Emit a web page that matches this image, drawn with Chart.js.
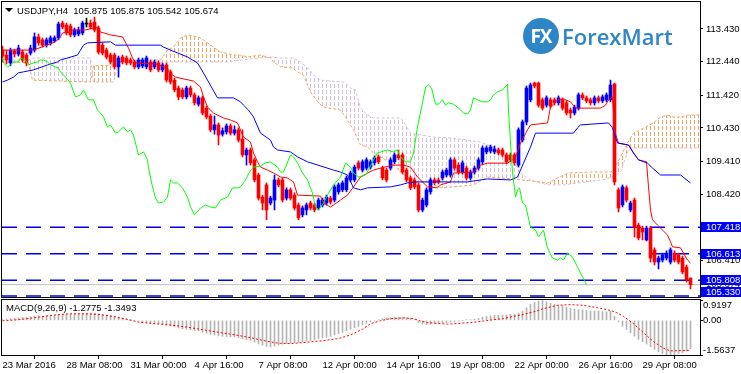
<!DOCTYPE html>
<html>
<head>
<meta charset="utf-8">
<script src="https://cdn.jsdelivr.net/npm/chart.js@4.4.1/dist/chart.umd.min.js"></script>
<style>
  html, body { margin: 0; padding: 0; background: #fff; }
  #wrap { position: relative; width: 741px; height: 374px; overflow: hidden; font-family: "Liberation Sans", Arial, sans-serif; }
  #main { position: absolute; left: 0; top: 0; }
  #macd { position: absolute; left: 0; top: 299px; }
  .txt { position: absolute; font-size: 9.5px; line-height: 11px; color: #000; white-space: nowrap; }
  #tri { position: absolute; left: 5px; top: 8px; width: 0; height: 0; border-left: 4px solid transparent; border-right: 4px solid transparent; border-top: 4px solid #000; }
  #logoCircle { position: absolute; left: 523px; top: 18px; width: 36px; height: 36px; border-radius: 50%; background: #2f86c6; color: #fff; font: bold 19px/36px "Open Sans", sans-serif; text-align: center; letter-spacing: -1px; }
  #logoText { position: absolute; left: 562px; top: 25px; font: 600 22px/22px "Open Sans", sans-serif; color: #2f86c6; }
</style>
</head>
<body>
<div id="wrap">
  <canvas id="main" width="741" height="298"></canvas>
  <canvas id="macd" width="741" height="75"></canvas>
  <div id="tri"></div>
  <div class="txt" style="left:17px;top:5px">USDJPY,H4&nbsp; 105.875 105.875 105.542 105.674</div>
  <div class="txt" style="left:6px;top:302px">MACD(9,26,9) -1.2775 -1.3493</div>
  <div id="logoCircle">FX</div>
  <div id="logoText">ForexMart</div>
</div>
<script>
// ── USDJPY H4 candles (bar 0 = 23 Mar 2016 16:00) ──
const openP = [
  112.79,112.64,112.40,112.76,112.67,112.73,112.64,112.70,112.79,113.19,
  113.10,112.94,113.01,113.07,113.16,113.61,113.55,113.52,113.25,113.28,
  113.31,113.58,113.61,113.64,113.46,112.94,112.79,112.64,112.64,112.28,
  112.58,112.55,112.49,112.43,112.28,112.31,112.28,112.43,112.28,112.40,
  112.19,112.34,112.13,111.88,111.64,111.58,111.37,111.64,111.43,111.15,
  111.34,111.03,110.79,110.37,110.52,110.24,110.31,110.49,110.27,110.37,
  110.09,109.61,109.76,109.46,109.00,108.33,108.70,108.15,108.24,108.85,
  108.85,108.30,108.55,108.39,108.09,107.79,107.94,108.15,108.09,108.00,
  108.09,108.15,108.30,108.24,108.49,108.55,108.55,108.85,108.85,109.37,
  109.15,109.21,109.24,109.37,109.55,109.21,109.15,109.21,109.40,109.61,
  109.61,109.15,108.91,108.85,108.70,107.94,108.09,108.49,108.85,108.85,
  108.91,109.00,109.00,109.46,109.30,109.09,109.21,108.91,109.09,109.21,
  109.40,109.70,109.73,109.70,109.76,109.76,109.61,109.61,109.61,109.30,
  110.06,110.61,111.28,111.79,111.79,111.28,111.12,111.28,111.28,111.19,
  111.28,111.19,110.97,110.88,111.03,111.43,111.34,111.28,111.19,111.34,
  111.25,111.28,111.28,111.76,108.55,108.09,108.61,107.94,108.24,107.48,
  107.39,107.03,107.39,106.73,106.36,106.42,106.48,106.36,106.63,106.57,
  106.48,106.21,105.875
];
const highP = [
  112.91,112.79,112.85,112.82,112.94,112.79,112.70,112.94,113.31,113.28,
  113.16,113.16,113.22,113.22,113.64,113.67,113.61,113.58,113.46,113.49,
  113.67,113.76,113.70,113.79,113.52,113.01,112.85,112.70,112.70,112.61,
  112.64,112.61,112.55,112.49,112.55,112.55,112.61,112.49,112.49,112.46,
  112.40,112.40,112.19,111.94,111.70,111.64,111.70,111.70,111.49,111.40,
  111.40,111.09,110.85,110.79,110.58,110.43,110.55,110.55,110.49,110.43,
  110.37,109.82,109.82,109.52,109.06,108.39,108.76,108.36,109.00,108.91,
  108.91,108.61,108.61,108.46,108.15,108.06,108.15,108.21,108.15,108.30,
  108.30,108.39,108.36,108.70,108.76,108.82,108.97,109.12,109.30,109.43,
  109.46,109.52,109.46,109.58,109.61,109.27,109.21,109.52,109.67,109.76,
  109.67,109.21,108.97,108.91,108.76,108.30,108.61,108.91,108.91,108.91,
  109.15,109.21,109.52,109.52,109.37,109.43,109.27,109.15,109.27,109.52,
  109.88,109.88,109.91,109.88,109.82,109.82,109.67,109.67,109.67,110.43,
  110.67,111.70,111.79,111.82,111.82,111.34,111.40,111.34,111.34,111.40,
  111.34,111.25,111.03,111.12,111.49,111.49,111.40,111.34,111.40,111.40,
  111.43,111.49,111.88,111.79,108.61,108.70,108.67,108.21,108.30,107.54,
  107.45,107.45,107.45,106.79,106.54,106.63,106.70,106.79,106.70,106.63,
  106.54,106.27,105.875
];
const lowP = [
  112.43,112.37,112.31,112.58,112.61,112.43,112.31,112.64,112.73,112.94,
  112.88,112.88,112.94,113.04,113.10,113.43,113.25,113.19,113.19,113.22,
  113.25,113.49,113.43,113.34,112.67,112.64,112.52,112.37,112.22,111.97,
  112.37,112.34,112.34,112.22,112.22,112.25,112.22,112.13,112.22,112.13,
  112.13,111.82,111.76,111.52,111.28,111.31,111.31,111.37,111.12,111.09,
  110.82,110.70,110.31,110.24,109.91,110.18,110.24,110.21,110.21,110.00,
  109.55,109.30,109.30,108.79,108.24,107.94,107.64,108.09,107.94,108.64,
  108.18,108.24,108.24,107.94,107.64,107.73,107.79,107.94,107.88,107.94,
  108.03,108.09,108.12,108.18,108.42,108.49,108.49,108.79,108.79,109.15,
  109.09,109.15,109.18,109.30,109.34,108.85,108.79,109.15,109.34,109.46,
  109.03,108.79,108.55,108.58,107.88,107.88,108.03,108.42,108.70,108.73,
  108.85,108.94,108.94,109.15,109.03,109.03,108.85,108.85,109.03,109.15,
  109.34,109.64,109.67,109.64,109.61,109.55,109.34,109.40,109.30,109.24,
  110.00,110.52,111.22,111.64,111.06,110.97,111.06,111.03,111.12,111.12,
  110.97,110.82,110.73,110.82,110.97,111.28,111.19,111.12,111.12,111.19,
  111.19,111.22,111.22,108.70,107.88,108.03,108.18,107.88,107.12,107.03,
  107.03,107.00,106.36,106.27,106.15,106.36,106.42,106.30,106.36,106.30,
  106.00,105.75,105.542
];
const closeP = [
  112.61,112.49,112.79,112.67,112.85,112.49,112.40,112.85,113.19,113.01,
  112.94,113.10,113.16,113.16,113.58,113.49,113.31,113.25,113.40,113.40,
  113.61,113.58,113.49,113.40,112.73,112.70,112.58,112.43,112.28,112.55,
  112.43,112.40,112.40,112.28,112.49,112.49,112.55,112.19,112.43,112.19,
  112.34,111.88,111.82,111.58,111.37,111.37,111.64,111.43,111.19,111.34,
  110.88,110.76,110.37,110.52,110.21,110.34,110.49,110.27,110.37,110.06,
  109.61,109.76,109.37,108.85,108.30,108.15,107.94,108.30,108.85,108.70,
  108.24,108.55,108.30,108.00,107.70,108.00,108.09,108.00,107.94,108.24,
  108.24,108.33,108.18,108.64,108.70,108.76,108.91,109.06,109.24,109.21,
  109.40,109.46,109.40,109.52,109.40,108.91,108.85,109.46,109.61,109.52,
  109.09,108.85,108.61,108.64,107.94,108.24,108.55,108.85,108.76,108.79,
  109.09,109.15,109.46,109.21,109.09,109.37,108.91,109.09,109.21,109.46,
  109.82,109.82,109.85,109.79,109.67,109.61,109.40,109.46,109.37,110.37,
  110.61,111.64,111.73,111.70,111.12,111.03,111.34,111.09,111.19,111.34,
  111.03,110.88,110.88,111.06,111.43,111.34,111.25,111.19,111.34,111.25,
  111.37,111.43,111.73,108.79,108.00,108.64,108.24,108.15,107.42,107.09,
  107.27,107.39,106.48,106.36,106.48,106.57,106.63,106.73,106.42,106.36,
  106.06,105.82,105.674
];

// ── Ichimoku lines, read as [bar, price] vertices ──
const tenkanPts = [
  [0,112.79],[7.75,112.79],[13.25,113.04],[14.5,113.19],[15,113.31],[17,113.34],[17.5,113.40],[20.75,113.40],
  [23.75,113.49],[24.5,113.34],[27,113.25],[30,113.19],[31.5,112.85],[32.5,112.55],[33.25,112.40],[38.25,112.37],
  [41.25,112.25],[41.5,112.13],[43.25,111.97],[47.75,111.85],[49.5,111.67],[50.25,111.37],[51.25,111.06],[52.75,110.88],
  [53.75,110.82],[55.25,110.73],[57,110.67],[58.75,110.58],[60.25,110.15],[62,110.00],[62.75,109.67],[63.75,109.40],
  [64.5,109.24],[66.25,109.15],[67.75,109.06],[69.5,108.94],[71.25,108.91],[72.75,108.79],[73.75,108.39],[79.5,108.36],
  [80.25,108.15],[82,108.03],[82.75,108.09],[84.5,108.24],[86.25,108.39],[87.75,108.64],[89.5,108.94],[91.25,109.06],
  [92.75,109.15],[94.5,109.21],[97.75,109.30],[100.25,109.30],[102,109.24],[103.75,108.94],[105,108.79],[106.25,108.64],
  [108.75,108.61],[109.5,108.70],[112,108.79],[112.75,109.06],[117.75,109.09],[119.5,109.30],[121.25,109.36],[126.25,109.36],
  [127.5,109.46],[128.25,109.55],[129.5,109.97],[131.25,110.37],[132,110.52],[136.25,110.58],[137,111.06],[138.75,111.28],
  [140.25,111.31],[142,111.22],[143.25,111.03],[149.5,111.03],[150.75,111.12],[151.5,111.28],[152.5,111.37],[153,110.34],
  [154,109.97],[156.5,109.91],[157.75,109.67],[159,109.46],[161,109.40],[161.5,108.64],[162,107.94],[162.5,107.64],
  [163.75,107.48],[165,107.33],[166.25,107.18],[167,106.97],[167.5,106.82],[169.5,106.79],[170.25,106.63],[171.25,106.42],
  [172,106.33]
];
const kijunPts = [
  [0,111.82],[1.25,111.88],[2.75,111.97],[4,112.10],[5.25,112.13],[7.75,112.19],[11.25,112.34],[13.75,112.43],
  [14.5,112.49],[16.25,112.55],[18.75,112.64],[19.5,112.79],[20.25,112.94],[21.25,113.01],[27,113.04],[28.25,112.94],
  [39.5,112.94],[40.25,112.88],[42,112.79],[46.25,112.58],[47.5,112.49],[48.75,112.40],[49.5,112.25],[51.25,111.88],
  [53.75,111.34],[57.75,111.34],[59.5,111.22],[60.25,111.12],[61.5,110.97],[62.75,110.76],[64.5,110.27],[67,110.06],
  [67.75,109.85],[68.75,109.76],[72,109.70],[73.75,109.55],[76.25,109.40],[82.75,109.15],[84.5,109.09],[86.25,109.00],
  [87.75,108.61],[89.5,108.55],[91.25,108.61],[97,108.64],[99.5,108.70],[101.25,108.76],[103.75,108.79],[116.25,108.79],
  [117.75,108.82],[121.25,108.88],[127,108.85],[128.75,108.94],[130.25,109.36],[132,109.85],[133.25,110.27],[142.75,110.27],
  [143.75,110.43],[144.5,110.52],[151.5,110.58],[152.5,110.43],[153.75,109.97],[156.5,109.91],[157.75,109.67],[159,109.46],
  [161.25,109.36],[162.5,109.21],[164.5,109.00],[169.5,109.00],[172,108.76]
];
const spanAPts = [
  [0,112.43],[6.5,112.40],[7.5,111.88],[22,111.82],[22.75,112.31],[27.75,112.34],[29.5,112.43],[37,112.49],
  [39.5,112.49],[41.25,112.79],[42.75,112.88],[44.5,113.16],[46.25,113.25],[47.75,113.22],[49.5,113.16],[51.25,113.01],
  [52.75,112.88],[54.5,112.73],[57.75,112.64],[59.5,112.64],[61.25,112.58],[64.5,112.64],[67,112.55],[67.75,112.43],
  [69.5,112.28],[72.5,112.25],[73.75,112.13],[75.25,112.03],[77,111.52],[78.75,111.22],[80.25,111.06],[84.5,110.97],
  [85.75,110.76],[87.75,110.37],[89.5,109.91],[91.25,109.85],[92.75,109.67],[94.5,109.55],[97.75,109.30],[99.5,109.09],
  [102.75,108.79],[106.25,108.79],[109.5,108.61],[112.75,108.64],[117.75,108.70],[121.25,108.94],[124.5,108.91],[130,108.85],
  [134.5,108.79],[136.25,108.76],[140.25,109.00],[141.5,109.06],[147,109.09],[152,109.09],[152.75,109.15],[154.5,109.55],
  [156.25,109.97],[157.75,110.27],[159.5,110.37],[162.75,110.58],[164.5,110.76],[166.25,110.82],[167.75,110.76],[169.5,110.76],
  [171.25,110.82],[174.5,110.82]
];
const spanBPts = [
  [0,112.49],[6.5,112.49],[7.5,112.55],[22,112.55],[22.75,111.82],[27.75,111.82],[29,112.43],[39.5,112.43],
  [56.25,112.43],[62,112.52],[67,112.58],[69.5,112.55],[72.75,112.55],[74.5,112.43],[76.25,112.25],[77.75,112.03],
  [79.5,111.88],[85.25,111.82],[87,111.64],[88.25,111.58],[89.5,111.03],[91.25,110.82],[92.75,110.73],[99.5,110.73],
  [100.75,110.52],[102,110.27],[107.75,110.15],[112.75,110.12],[117.75,110.03],[119.5,110.00],[124.5,109.76],[128.25,109.30],
  [130,109.00],[132,108.85],[134.5,108.76],[136.25,108.70],[140.25,108.70],[149.5,108.85],[152.75,108.94],[154.5,109.09],
  [156.5,109.76],[157.25,109.82],[174.5,109.82]
];
const chikouPts = [
  [0,112.55],[0.25,112.40],[1.25,112.28],[2,112.34],[2.75,112.43],[4,112.43],[4.5,112.55],[5.75,112.49],
  [6.5,112.34],[7.75,112.40],[8.75,112.43],[9.5,112.49],[10.25,112.49],[11.25,112.43],[12,112.34],[13.25,112.28],
  [14,112.25],[14.5,112.13],[15.75,111.97],[17,111.79],[17.75,111.52],[18.25,111.37],[19.5,111.43],[20.25,111.58],
  [21.5,111.28],[22.75,111.28],[23.75,110.97],[24.5,110.88],[25.25,110.76],[26.25,110.46],[27,110.52],[28.25,110.27],
  [29,110.31],[30.25,110.46],[31.25,110.31],[32,110.37],[32.75,110.21],[33.25,109.97],[34,109.61],[35.25,109.70],
  [36.25,109.46],[36.5,109.21],[37.5,108.64],[38.25,108.30],[39,108.15],[40.25,108.18],[41.25,108.33],[42,108.85],
  [42.75,108.76],[43.75,108.76],[45,108.61],[46.25,108.33],[47,108.03],[48,107.79],[49.5,108.00],[50.75,108.09],
  [52,108.03],[53.25,108.00],[54.5,108.24],[56.25,108.33],[57.5,108.61],[58.75,108.61],[59.5,108.64],[60.75,108.85],
  [61.75,109.09],[62.75,109.24],[64.5,109.27],[65.75,109.37],[67,109.40],[68.75,109.24],[69.5,109.09],[70.25,109.09],
  [72,109.61],[72.75,109.55],[73.75,109.37],[75,109.06],[76.25,108.85],[77.5,108.45],[78.25,108.03],[79,107.94],
  [80.25,108.15],[81.5,108.45],[82.75,108.70],[84.5,108.94],[85.75,109.36],[87,109.24],[87.75,109.06],[89,108.94],
  [90.75,109.00],[91.5,109.15],[92.75,109.46],[93.75,109.67],[96.25,109.76],[97.75,109.70],[98.75,109.76],[99.5,109.55],
  [100.75,109.40],[102,109.40],[102.75,109.67],[103.75,110.46],[104.5,110.91],[105,111.19],[105.75,111.67],[106.5,111.73],
  [107.25,111.64],[108.25,111.15],[109,111.15],[110,111.28],[110.75,111.12],[111.5,111.19],[112.75,111.15],[114,111.03],
  [115.25,110.88],[116.25,110.85],[117,110.97],[117.75,111.34],[118.75,111.28],[120,111.22],[121.25,111.22],[122,111.28],
  [122.75,111.43],[123.75,111.52],[125,111.58],[126.25,111.76],[126.5,110.97],[127,109.97],[127.5,109.09],[127.75,108.85],
  [128.25,108.33],[128.75,108.55],[129.25,108.61],[130,108.15],[130.75,108.09],[132,107.42],[133.25,107.33],[134,107.12],
  [135.25,107.33],[136.25,106.79],[137.5,106.48],[138.75,106.42],[139.5,106.48],[140.25,106.42],[141.25,106.63],[142.5,106.51],
  [143.75,106.21],[145,105.91],[146,105.67]
];

// ── Horizontal levels ──
const levelPrices = [107.418, 106.613, 105.808, 105.330];
const bidPrice = 105.674;
const priceTicks = [113.430, 112.440, 111.420, 110.430, 109.410, 108.420, 107.400, 106.410];

// ── MACD(9,26,9) ──
const macdHist = [
  0.04,0.06,0.08,0.10,0.12,0.13,0.14,0.16,0.19,0.20,
  0.20,0.21,0.22,0.23,0.26,0.28,0.29,0.29,0.29,0.30,
  0.32,0.33,0.33,0.33,0.30,0.27,0.24,0.21,0.17,0.14,
  0.11,0.08,0.04,0.00,-0.04,-0.07,-0.09,-0.12,-0.13,-0.15,
  -0.17,-0.21,-0.25,-0.29,-0.34,-0.38,-0.40,-0.42,-0.46,-0.48,
  -0.54,-0.58,-0.64,-0.66,-0.70,-0.72,-0.73,-0.74,-0.75,-0.78,
  -0.83,-0.86,-0.91,-0.98,-1.06,-1.12,-1.18,-1.20,-1.16,-1.12,
  -1.08,-1.05,-1.03,-1.01,-1.00,-0.97,-0.94,-0.91,-0.88,-0.84,
  -0.80,-0.76,-0.72,-0.66,-0.60,-0.54,-0.47,-0.40,-0.33,-0.27,
  -0.20,-0.13,-0.07,-0.02,0.03,0.08,0.11,0.12,0.15,0.15,
  0.15,0.12,0.09,0.03,-0.10,-0.17,-0.20,-0.17,-0.14,-0.13,
  -0.11,-0.10,-0.07,-0.07,-0.03,0.00,0.03,0.03,0.06,0.09,
  0.15,0.18,0.21,0.23,0.23,0.24,0.24,0.27,0.27,0.33,
  0.42,0.57,0.72,0.81,0.87,0.9197,0.84,0.78,0.72,0.69,
  0.66,0.60,0.54,0.51,0.48,0.48,0.45,0.42,0.42,0.42,
  0.41,0.39,0.42,0.18,-0.07,-0.26,-0.41,-0.56,-0.71,-0.86,
  -0.96,-1.07,-1.19,-1.31,-1.42,-1.50,-1.55,-1.5637,-1.54,-1.50,
  -1.45,-1.38,-1.2775
];
const signalPts = [
  [0,-0.02],[4,0.03],[8,0.12],[12,0.22],[16,0.29],[20,0.30],[24,0.27],[28,0.17],[31,0.05],[34,-0.08],
  [38,-0.15],[42,-0.21],[46,-0.30],[50,-0.42],[54,-0.54],[58,-0.65],[62,-0.78],[66,-0.94],[69,-1.03],[72,-1.05],
  [76,-0.99],[80,-0.92],[84,-0.82],[87,-0.66],[90,-0.40],[92,-0.15],[94.5,-0.02],[97,0.08],[100.25,0.11],[102.75,0.08],
  [104.5,-0.03],[106.25,-0.10],[108.75,-0.14],[111.25,-0.17],[113.75,-0.14],[117,-0.10],[120.25,-0.03],[122.75,0.03],
  [125.25,0.08],[127.75,0.18],[130.25,0.27],[132.75,0.38],[135.25,0.53],[138.75,0.68],[142,0.71],[145.25,0.68],
  [148.75,0.57],[152,0.45],[153.75,0.33],[155.25,0.18],[157.75,-0.15],[160.25,-0.56],[162.75,-0.96],[165.25,-1.26],
  [167,-1.38],[172,-1.3493]
];
const macdTicks = [0.9197, 0, -1.5637];
const macdTickLabels = ['0.9197', '0.00', '-1.5637'];

// ── time axis ──
const timeTickBars = [0, 16, 32, 48, 64, 80, 96, 112, 128, 144, 160];
const timeLabels = ['23 Mar 2016', '28 Mar 08:00', '31 Mar 00:00', '4 Apr 16:00', '7 Apr 08:00', '12 Apr 00:00',
  '14 Apr 16:00', '19 Apr 08:00', '22 Apr 00:00', '26 Apr 16:00', '29 Apr 08:00'];

// ── styles ──
const BULL = '#0000FF', BEAR = '#FF0000';
const SANDY = '#F4A460', THISTLE = '#D8BFD8';
const LEVEL = '#0000F0', BOX = '#0000FF';
const FONT = '9.5px "Liberation Sans"';
const xMin = -0.125, xMax = 174.375;

Chart.defaults.font.family = '"Liberation Sans", Arial, sans-serif';
Chart.defaults.font.size = 9.5;
Chart.defaults.color = '#000';

function hatch(color) {
  const c = document.createElement('canvas');
  c.width = 4; c.height = 6;
  const g = c.getContext('2d');
  g.fillStyle = color;
  g.fillRect(2, 0, 1, 4);
  return g.createPattern(c, 'repeat');
}
const pts = arr => arr.map(([x, y]) => ({x, y}));
const flat = v => [{x: xMin, y: v}, {x: xMax, y: v}];
function lineSet(data, color, width, dash, order, extra) {
  return Object.assign({type: 'line', data, borderColor: color, borderWidth: width, borderDash: dash,
    pointRadius: 0, tension: 0, fill: false, order}, extra || {});
}

const barIdx = closeP.map((_, i) => i);
const candleCol = barIdx.map(i => closeP[i] > openP[i] ? BULL : (closeP[i] < openP[i] ? BEAR : '#000'));

const frame = {
  id: 'frame',
  afterDraw(chart) {
    const {ctx, chartArea: a} = chart;
    ctx.save();
    ctx.strokeStyle = '#000';
    ctx.lineWidth = 1;
    ctx.strokeRect(a.left - 0.5, a.top - 0.5, a.right - a.left + 1, a.bottom - a.top + 1);
    ctx.restore();
  }
};

// price tags on the right axis; a tag is kept inside the main window
const levelBoxes = {
  id: 'levelBoxes',
  afterDraw(chart) {
    const {ctx, chartArea} = chart;
    const y = chart.scales.y;
    const left = chartArea.right + 1;
    ctx.save();
    ctx.font = FONT;
    ctx.textBaseline = 'middle';
    ctx.fillStyle = '#000';
    ctx.fillText(bidPrice.toFixed(3), left + 5, y.getPixelForValue(bidPrice));
    levelPrices.forEach(v => {
      const top = Math.min(Math.round(y.getPixelForValue(v)) - 5, chartArea.bottom - 10);
      ctx.fillStyle = BOX;
      ctx.fillRect(left, top, 40, 10);
      ctx.fillStyle = '#fff';
      ctx.fillText(v.toFixed(3), left + 5, top + 5.5);
    });
    ctx.restore();
  }
};

const macdLabels = {
  id: 'macdLabels',
  afterDraw(chart) {
    const s = chart.scales.y, ctx = chart.ctx;
    ctx.save();
    ctx.font = FONT;
    ctx.fillStyle = '#000';
    ctx.textBaseline = 'middle';
    macdTicks.forEach((v, k) => {
      let py = s.getPixelForValue(v);
      if (v === s.max) py += 5;
      else if (v === s.min) py -= 5;
      ctx.fillText(macdTickLabels[k], s.left + 3, py);
    });
    ctx.restore();
  }
};

new Chart(document.getElementById('main'), {
  type: 'line',
  data: {
    datasets: [
      lineSet(pts(spanAPts), SANDY, 1, [3, 2], 20, {fill: {target: '+1', above: hatch(SANDY), below: hatch(THISTLE)}}),
      lineSet(pts(spanBPts), THISTLE, 1, [3, 2], 19),
      ...levelPrices.map(v => lineSet(flat(v), LEVEL, 1.5, [15, 9], 15)),
      lineSet(flat(bidPrice), '#C0C0C0', 1, [], 14),
      {type: 'bar', data: barIdx.map(i => ({x: i, y: [lowP[i], highP[i]]})), backgroundColor: candleCol,
        barThickness: 1, grouped: false, borderWidth: 0, order: 6},
      {type: 'bar', data: barIdx.map(i => ({x: i, y: [openP[i], closeP[i]]})), backgroundColor: candleCol,
        barThickness: 3, minBarLength: 1, grouped: false, borderWidth: 0, order: 5},
      lineSet(pts(tenkanPts), '#FF0000', 1, [], 3),
      lineSet(pts(kijunPts), '#0000FF', 1, [], 2),
      lineSet(pts(chikouPts), '#00FF00', 1, [], 1)
    ]
  },
  options: {
    responsive: false, animation: false, devicePixelRatio: 1, events: [],
    layout: {padding: {left: 2, top: 2, right: 0, bottom: 1}},
    plugins: {legend: {display: false}, tooltip: {enabled: false}},
    scales: {
      x: {type: 'linear', min: xMin, max: xMax, offset: false, display: false},
      y: {
        type: 'linear', position: 'right', min: 105.299, max: 114.249,
        afterBuildTicks: s => { s.ticks = priceTicks.map(v => ({value: v})); },
        afterFit: s => { s.width = 41; s.paddingTop = 0; s.paddingBottom = 0; },
        ticks: {autoSkip: false, padding: 3, color: '#000', font: {size: 9.5}, callback: v => Number(v).toFixed(3)},
        grid: {drawOnChartArea: false, tickLength: 3, color: '#000'},
        border: {color: '#000'}
      }
    }
  },
  plugins: [frame, levelBoxes]
});

new Chart(document.getElementById('macd'), {
  type: 'line',
  data: {
    datasets: [
      {type: 'bar', data: macdHist.map((v, i) => ({x: i, y: v})), backgroundColor: '#B4B4B4',
        barThickness: 1, grouped: false, borderWidth: 0, order: 2},
      lineSet(pts(signalPts), '#FF0000', 1, [2, 2], 1)
    ]
  },
  options: {
    responsive: false, animation: false, devicePixelRatio: 1, events: [],
    layout: {padding: {left: 2, top: 1, right: 0, bottom: 0}},
    plugins: {legend: {display: false}, tooltip: {enabled: false}},
    scales: {
      x: {
        type: 'linear', min: xMin, max: xMax, offset: false, position: 'bottom',
        afterBuildTicks: s => { s.ticks = timeTickBars.map(v => ({value: v})); },
        afterFit: s => { s.height = 19; s.paddingLeft = 0; s.paddingRight = 0; },
        ticks: {autoSkip: false, maxRotation: 0, align: 'start', padding: 1, color: '#000', font: {size: 9.5},
          callback: (v, i) => timeLabels[i]},
        grid: {drawOnChartArea: false, tickLength: 4, color: '#000'},
        border: {color: '#000'}
      },
      y: {
        type: 'linear', position: 'right', min: -1.5637, max: 0.9197,
        afterBuildTicks: s => { s.ticks = macdTicks.map(v => ({value: v})); },
        afterFit: s => { s.width = 41; s.paddingTop = 0; s.paddingBottom = 0; },
        ticks: {display: false},
        grid: {drawOnChartArea: false, tickLength: 3, color: '#000'},
        border: {color: '#000'}
      }
    }
  },
  plugins: [frame, macdLabels]
});
</script>
</body>
</html>
